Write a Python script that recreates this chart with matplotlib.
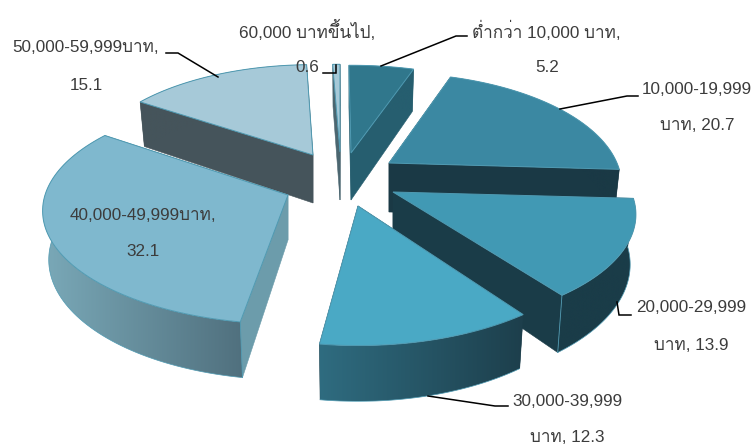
import numpy as np
import matplotlib
matplotlib.use('Agg')
import matplotlib.pyplot as plt
from matplotlib.colors import LinearSegmentedColormap
from matplotlib.patches import Polygon

plt.rcParams['font.family'] = ['Liberation Sans', 'Loma']

categories = ['ต่ำกว่า 10,000 บาท', '10,000-19,999 บาท', '20,000-29,999 บาท', '30,000-39,999 บาท',
              '40,000-49,999บาท', '50,000-59,999บาท', '60,000 บาทขึ้นไป']
values = [5.2, 20.7, 13.9, 12.3, 32.1, 15.1, 0.6]

# angles of each slice, clockwise from the top
edges = np.concatenate([[0], np.cumsum(values)]) / sum(values) * 360

# apex x, apex y, a, b, rotation, perspective, apex depth (one per slice, exploded look)
slice_geo = [(351, 153, 228, 100, -0.6, 0.14, 47),
             (389, 163, 228, 108, 0, 0.2, 49),
             (393, 192, 238, 108, 0, 0.2, 48),
             (358, 206, 246, 120, 0, 0.14, 48),
             (288, 195, 243, 111, 2, 0.14, 45),
             (313, 155, 224, 103, 0.3, 0.14, 48),
             (340, 152, 222, 100, 0, 0.14, 48)]
top_colors = ['#30778c', '#3b88a2', '#4199b4', '#4aa9c5', '#7fb8ce', '#a6c9d8', '#a6c9d8']
cut_colors = ['#265e6f', '#1a3945', '#1a3c48', '#1a3c48', '#6c9cab', '#45545b', '#4b6670']
rim_colors = [('#265e6f', '#265e6f'), ('#1a3945', '#1a3945'), ('#1a3c48', '#1a3c48'),
              ('#2f6c80', '#1d3f4c'), ('#7aa9b8', '#50707e'), ('#45545b', '#45545b'),
              ('#4b6670', '#4b6670')]
edge_color = '#4f9ab2'
depth = 48
vanish_x = 350


def top_point(i, theta):
    cx, cy, a, b, rot, persp, _ = slice_geo[i]
    t = np.radians(theta + rot)
    s = 1 / (1 + persp * np.cos(t))
    return cx + a * np.sin(t) * s, cy - b * np.cos(t) * s


def bottom_point(i, theta):
    x, y = top_point(i, theta)
    t = np.radians(theta + slice_geo[i][4])
    s = 1 / (1 + slice_geo[i][5] * np.cos(t))
    return x + (vanish_x - x) * 0.02, y + depth * s


def draw_slice(ax, i, z):
    cx, cy = slice_geo[i][:2]
    th = np.linspace(edges[i], edges[i + 1], 80)
    top_arc = np.array([top_point(i, t) for t in th])
    bot_arc = np.array([bottom_point(i, t) for t in th])
    apex_bot = (cx, cy + slice_geo[i][6])

    # the two flat cut faces
    for k in (0, -1):
        face = [(cx, cy), tuple(top_arc[k]), tuple(bot_arc[k]), apex_bot]
        ax.add_patch(Polygon(face, fc=cut_colors[i], ec=cut_colors[i], lw=0.4, zorder=z))

    # outer rim, only the part facing us is seen
    rim = np.vstack([top_arc, bot_arc[::-1]])
    patch = Polygon(rim, fc='none', ec='none', zorder=z + 0.1)
    ax.add_patch(patch)
    cmap = LinearSegmentedColormap.from_list('rim', rim_colors[i])
    x0, x1 = rim[:, 0].min(), rim[:, 0].max()
    im = ax.imshow(np.linspace(0, 1, 256).reshape(1, -1), cmap=cmap, aspect='auto',
                   extent=(x0, x1, rim[:, 1].max(), rim[:, 1].min()), zorder=z + 0.2)
    im.set_clip_path(patch)

    # thin lines on the front slices
    if i in (2, 3, 4):
        ax.plot(bot_arc[:, 0], bot_arc[:, 1], color=edge_color, lw=0.5, zorder=z + 0.3)
    if i in (2, 4):
        k = -1 if i == 2 else 0
        ax.plot([top_arc[k, 0], bot_arc[k, 0]], [top_arc[k, 1], bot_arc[k, 1]],
                color=edge_color, lw=0.6, zorder=z + 0.3)

    # top surface
    outline = np.vstack([[(cx, cy)], top_arc])
    ax.add_patch(Polygon(outline, fc=top_colors[i], ec=edge_color, lw=0.7, joinstyle='miter',
                         zorder=z + 0.5))


fig = plt.figure(figsize=(7.54, 4.47), dpi=100)
ax = fig.add_axes([0, 0, 1, 1])
ax.axis('off')

# back to front
for z, i in enumerate([6, 0, 5, 1, 4, 2, 3]):
    draw_slice(ax, i, z + 2)

ax.set_xlim(0, 754)
ax.set_ylim(447, 0)

# labels: text lines, then line centre positions
line_pairs = [(categories[0] + ',', str(values[0])),
              ('10,000-19,999', 'บาท, ' + str(values[1])),
              ('20,000-29,999', 'บาท, ' + str(values[2])),
              ('30,000-39,999', 'บาท, ' + str(values[3])),
              (categories[4] + ',', str(values[4])),
              (categories[5] + ',', str(values[5])),
              (categories[6] + ',', str(values[6]))]
label_pos = [((546, 31), (547, 68)),
             ((697, 90), (697, 126)),
             ((691, 308), (691, 346)),
             ((567, 401), (567, 438)),
             ((143, 215), (143, 252)),
             ((86, 47), (86, 85)),
             ((307, 30), (307, 68))]
for (l1, l2), (p1, p2) in zip(line_pairs, label_pos):
    ax.text(p1[0], p1[1], l1, ha='center', va='center', fontsize=12.3, color='#3c3c3c', zorder=50)
    ax.text(p2[0], p2[1], l2, ha='center', va='center', fontsize=12.3, color='#3c3c3c', zorder=50)

leaders = [[(381, 66), (456, 36), (467, 36)],
           [(560, 109), (627, 96), (638, 96)],
           [(617, 302), (619, 315), (631, 315)],
           [(428, 396), (495, 406), (508, 406)],
           [(218, 77), (178, 53), (166, 53)],
           [(336, 65), (336, 73), (323, 73)]]
for pts in leaders:
    xs, ys = zip(*pts)
    ax.plot(xs, ys, color='black', lw=1.1, solid_joinstyle='miter', zorder=40)

fig.savefig('out.png', dpi=100)
